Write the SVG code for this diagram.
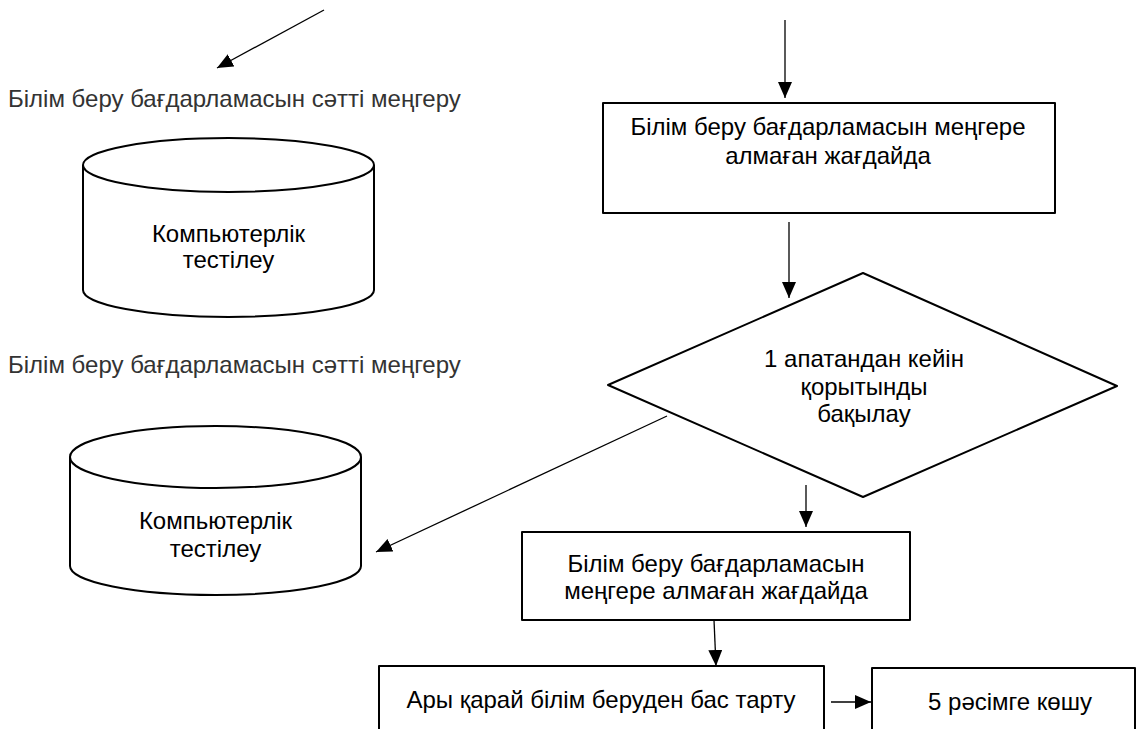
<svg xmlns="http://www.w3.org/2000/svg" width="1146" height="729" viewBox="0 0 1146 729">
<style>
.shape{fill:#fff;stroke:#000;stroke-width:2;stroke-linejoin:round}
.conn{fill:none;stroke:#000;stroke-width:1.3}
.t{font-family:"Liberation Sans",Arial,sans-serif;font-size:24px;fill:#000;text-anchor:middle}
.lbl{font-family:"Liberation Sans",Arial,sans-serif;font-size:24px;fill:#333}
</style>
<defs>
<marker id="ah" markerUnits="userSpaceOnUse" markerWidth="18" markerHeight="16" refX="16" refY="7" orient="auto">
<path d="M0,0 L16,7 L0,14 z" fill="#000"/>
</marker>
</defs>
<rect width="1146" height="729" fill="#fff"/>
<g id="connectors">
<line class="conn" x1="324" y1="10" x2="217" y2="68" marker-end="url(#ah)"/>
<line class="conn" x1="785" y1="20" x2="785" y2="98" marker-end="url(#ah)"/>
<line class="conn" x1="789" y1="222" x2="789" y2="298" marker-end="url(#ah)"/>
<line class="conn" x1="667" y1="416" x2="376" y2="552" marker-end="url(#ah)"/>
<line class="conn" x1="806" y1="485" x2="806" y2="527" marker-end="url(#ah)"/>
<line class="conn" x1="714" y1="620" x2="716" y2="666" marker-end="url(#ah)"/>
<line class="conn" x1="831" y1="702" x2="871" y2="702" marker-end="url(#ah)"/>
</g>
<g id="label1"><text class="lbl" x="8" y="107">Білім беру бағдарламасын сәтті меңгеру</text></g>
<g id="label2"><text class="lbl" x="8" y="373">Білім беру бағдарламасын сәтті меңгеру</text></g>
<g id="cyl1">
<path class="shape" d="M83,165 L83,290 A145.5,27 0 0 0 374,290 L374,165"/>
<ellipse class="shape" cx="228.5" cy="165" rx="145.5" ry="27"/>
<text class="t" x="228.5" y="242">Компьютерлік</text>
<text class="t" x="228.5" y="268">тестілеу</text>
</g>
<g id="cyl2">
<path class="shape" d="M70,457 L70,566 A145.5,29 0 0 0 361,566 L361,457"/>
<ellipse class="shape" cx="215.5" cy="457" rx="145.5" ry="31"/>
<text class="t" x="215.5" y="529">Компьютерлік</text>
<text class="t" x="215.5" y="557">тестілеу</text>
</g>
<g id="rect1">
<rect class="shape" x="603" y="103" width="452" height="110"/>
<text class="t" x="828" y="135">Білім беру бағдарламасын меңгере</text>
<text class="t" x="828" y="164">алмаған жағдайда</text>
</g>
<g id="diamond">
<polygon class="shape" points="863,273 1117,386 863,497 608,385"/>
<text class="t" x="864" y="367">1 апатандан кейін</text>
<text class="t" x="864" y="395">қорытынды</text>
<text class="t" x="864" y="422">бақылау</text>
</g>
<g id="rect2">
<rect class="shape" x="522" y="532" width="388" height="88"/>
<text class="t" x="716" y="572">Білім беру бағдарламасын</text>
<text class="t" x="716" y="599">меңгере алмаған жағдайда</text>
</g>
<g id="rect3">
<rect class="shape" x="379" y="666" width="445" height="80"/>
<text class="t" x="601" y="708">Ары қарай білім беруден бас тарту</text>
</g>
<g id="rect4">
<rect class="shape" x="872" y="668" width="263" height="80"/>
<text class="t" x="1010" y="710">5 рәсімге көшу</text>
</g>
</svg>
